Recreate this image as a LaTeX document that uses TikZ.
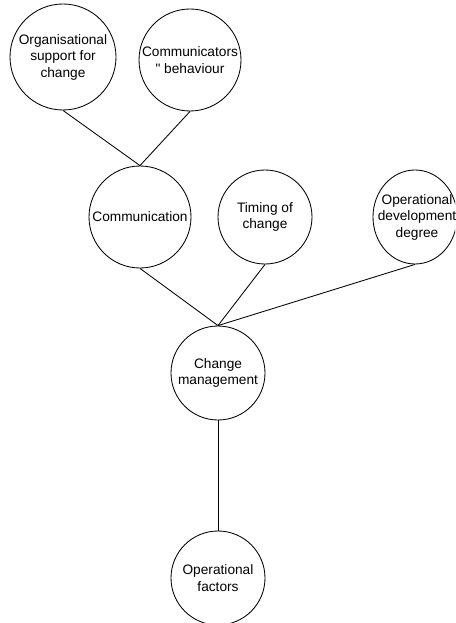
\documentclass[tikz,border=0pt]{standalone}
\usepackage{fontspec}
\setmainfont{Liberation Sans}
\usetikzlibrary{shapes.geometric}
\begin{document}
\begin{tikzpicture}[x=1pt,y=-1pt,
  factor/.style={circle,draw,line width=0.85pt,inner sep=0pt,align=center,
    font=\fontsize{13.7}{16.5}\selectfont},
  wideband/.style={ellipse,draw,line width=0.85pt,inner sep=0pt,align=center,
    font=\fontsize{13.7}{16.5}\selectfont},
  link/.style={line width=0.85pt}]
\useasboundingbox (0,0) rectangle (455,623);
\clip (0,0) rectangle (455,623);

% upper tier
\node[factor,minimum size=106pt] (org) at (63,57) {Organisational\\support for\\change};
\node[factor,minimum size=102pt] (beh) at (190,60) {Communicators\\\textquotedbl{} behaviour};

% middle tier
\node[factor,minimum size=102pt] (com) at (140,217) {Communication};
\node[factor,minimum size=94pt] (tim) at (265,217) {Timing of\\change};
\node[wideband,minimum width=84pt,minimum height=94pt] (dev) at (415,217) {};
\node[align=center,inner sep=0pt,font=\fontsize{13.7}{16.5}\selectfont] (devtext) at (417,217)
  {Operational\\development\\degree};

% lower tier
\node[factor,minimum size=94pt] (chg) at (218,373) {Change\\management};
\node[factor,minimum size=94pt] (ops) at (218,578) {Operational\\factors};

% connectors
\draw[link] (org.south) -- (com.north);
\draw[link] (beh.south) -- (com.north);
\draw[link] (com.south) -- (chg.north);
\draw[link] (tim.south) -- (chg.north);
\draw[link] (dev.south) -- (chg.north);
\draw[link] (chg.south) -- (ops.north);
\end{tikzpicture}
\end{document}
